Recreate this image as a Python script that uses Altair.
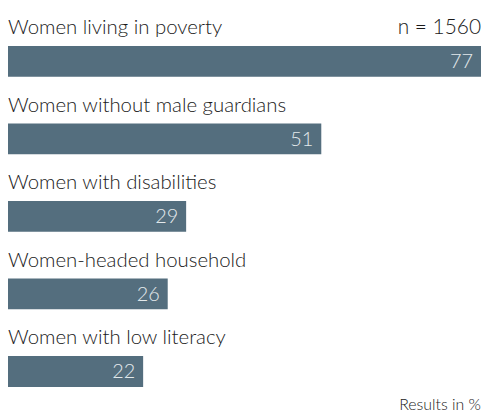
import altair as alt
import pandas as pd

categories = [
    "Women living in poverty",
    "Women without male guardians",
    "Women with disabilities",
    "Women-headed household",
    "Women with low literacy",
]
values = [77, 51, 29, 26, 22]
sample_note = ["n = 1560"]
unit_note = ["Results in %"]

df = pd.DataFrame({"cat": categories, "val": values})

FONT = "Lato"
BAR = "#546e7e"
INK = "#1a1a1a"

y_enc = alt.Y("cat:N", sort=categories, axis=None,
              scale=alt.Scale(range=[13.5, 403.5], paddingInner=0, paddingOuter=0))
x_enc = alt.X("val:Q", axis=None, scale=alt.Scale(domain=[0, 77], nice=False, zero=True))

base = alt.Chart(df)

bars = base.mark_bar(size=31, color=BAR).encode(x=x_enc, y=y_enc)

names = base.mark_text(align="left", baseline="middle", dy=-33.5, font=FONT,
                       fontSize=20.5, fontWeight=300, color=INK).encode(
    x=alt.value(0), y=y_enc, text="cat:N")

nums = base.mark_text(align="right", baseline="middle", dx=-8, dy=1, font=FONT,
                      fontSize=20, fontWeight=300, color="#e3e9ec").encode(
    x=x_enc, y=y_enc, text="val:Q")

n_txt = alt.Chart(pd.DataFrame({"t": sample_note})).mark_text(
    align="right", baseline="middle", font=FONT, fontSize=21, fontWeight=300,
    color=INK).encode(
    x=alt.value(476), y=alt.value(19), text="t:N")

unit_txt = alt.Chart(pd.DataFrame({"t": unit_note})).mark_text(
    align="right", baseline="alphabetic", font=FONT, fontSize=16, fontWeight=300,
    color=INK).encode(
    x=alt.value(476), y=alt.value(403), text="t:N")

chart = alt.layer(bars, names, nums, n_txt, unit_txt).properties(
    width=476, height=404, autosize=alt.AutoSizeParams(type="none"), padding=0,
    background="white"
).configure_view(stroke=None)

chart.save("out.html", embed_options={"renderer": "svg", "actions": False})
